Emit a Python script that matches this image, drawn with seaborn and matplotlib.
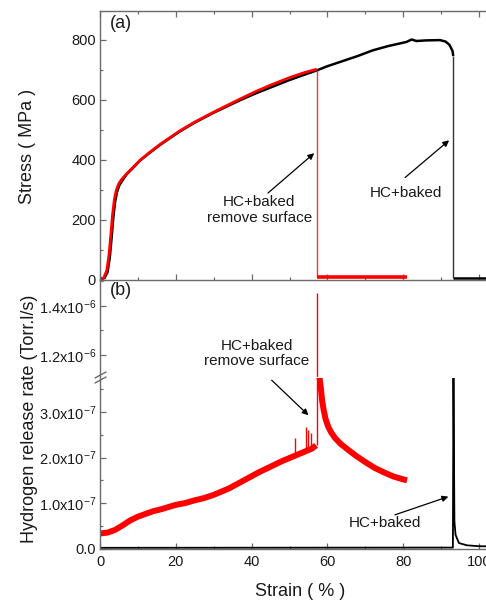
import matplotlib
matplotlib.use("Agg")
import matplotlib.pyplot as plt
import seaborn as sns
import pandas as pd
from matplotlib.ticker import MultipleLocator, FixedLocator, FuncFormatter

# ---------------- data ----------------
# (a) stress-strain
red_strain = [0, 1.0, 1.8, 2.4, 2.9, 3.3, 3.8, 4.3, 4.9, 5.6, 7.0, 8.8, 10.6, 13, 16, 21, 25, 30, 37, 41, 45, 50, 54, 57.2]
red_stress = [0, 6, 30, 85, 155, 215, 268, 298, 318, 332, 352, 375, 398, 423, 452, 495, 525, 558, 602, 626, 648, 673, 690, 701]
red_broken_strain = [57.2, 81.0]
red_broken_stress = [7, 7]
red_fracture = 57.2

blk_strain = [0, 1.2, 2.0, 2.6, 3.1, 3.5, 4.0, 4.5, 5.1, 5.8, 7.0, 8.8, 10.6, 13, 16, 21, 25, 30, 37, 41, 45, 50, 54, 57.2,
              60, 63.3, 68, 72, 76, 80.9, 82.2, 83.5, 86, 89.7, 91.2, 92.2, 93.0, 93.2]
blk_stress = [0, 5, 25, 75, 145, 205, 260, 292, 314, 328, 350, 373, 397, 421, 450, 493, 523, 556, 598, 620, 640, 665, 683, 697,
              711, 725, 745, 764, 778, 792, 800, 795, 797, 798, 793, 782, 762, 745]
blk_broken_strain = [93.2, 106.0]
blk_broken_stress = [6, 6]
blk_fracture = 93.2

# (b) hydrogen release rate (Torr.l/s)
h_red_strain = [0, 2, 4, 6, 8, 10, 12, 14, 16, 18, 20, 22.5, 25, 27.5, 30, 32, 34, 36, 38, 40,
                42, 44, 46, 48, 50, 52, 54, 56, 57.0]
h_red_rate = [3.3e-8, 3.5e-8, 4.1e-8, 5.1e-8, 6.2e-8, 7.0e-8, 7.6e-8, 8.2e-8, 8.6e-8, 9.1e-8, 9.6e-8, 1.00e-7,
              1.06e-7, 1.11e-7, 1.18e-7, 1.25e-7, 1.32e-7, 1.41e-7, 1.50e-7, 1.59e-7, 1.68e-7, 1.76e-7,
              1.84e-7, 1.92e-7, 1.99e-7, 2.06e-7, 2.13e-7, 2.20e-7, 2.27e-7]
h_red_decay_strain = [57.7, 58.0, 58.3, 58.6, 59.0, 59.5, 60.2, 61.0, 62.0, 63.5, 65.0, 67.5, 70.0, 72.5,
                      75.0, 77.5, 80.0, 81.0]
h_red_decay_rate = [3.9e-7, 3.70e-7, 3.50e-7, 3.25e-7, 3.05e-7, 2.85e-7, 2.68e-7, 2.55e-7, 2.43e-7, 2.30e-7,
                    2.20e-7, 2.04e-7, 1.90e-7, 1.77e-7, 1.67e-7, 1.58e-7, 1.52e-7, 1.50e-7]
h_red_spike_strain = [51.5, 54.3, 54.8, 55.6, 57.2]
h_red_spike_base = [2.06e-7, 2.16e-7, 2.18e-7, 2.20e-7, 2.27e-7]
h_red_spike_top = [2.43e-7, 2.67e-7, 2.60e-7, 2.54e-7, 1.453e-6]

h_blk_strain = [0, 93.1, 93.25, 93.5, 93.8, 94.7, 96.8, 100, 106]
h_blk_rate = [1.5e-9, 2.0e-9, 3.8e-7, 6.0e-8, 3.0e-8, 1.2e-8, 7e-9, 5e-9, 4.5e-9]

x_ticks = [0, 20, 40, 60, 80, 100]
stress_ticks = [0, 200, 400, 600, 800]
rate_ticks_low = [0, 1e-7, 2e-7, 3e-7]
rate_ticks_up = [1.2e-6, 1.4e-6]

# ---------------- style ----------------
sns.set_theme(style="ticks")
plt.rcParams["font.family"] = ["Liberation Sans", "DejaVu Sans"]
plt.rcParams["mathtext.fontset"] = "custom"
plt.rcParams["mathtext.rm"] = "Liberation Sans"
plt.rcParams["mathtext.it"] = "Liberation Sans"
plt.rcParams["mathtext.default"] = "regular"

RED = "#ff0000"
BLK = "#000000"
SPINE = "#6a6a6a"
TXT = "#1a1a1a"
TICK_FS = 10.5

W, H = 486, 602
fig = plt.figure(figsize=(W / 100, H / 100), dpi=100)


def rect(l, t, r, b):
    return [l / W, 1 - b / H, (r - l) / W, (b - t) / H]


ax_a = fig.add_axes(rect(100, 11, 498, 279.5))
ax_bu = fig.add_axes(rect(100, 279.5, 498, 376.5))
ax_bl = fig.add_axes(rect(100, 377.5, 498, 548.5))

for ax in (ax_a, ax_bu, ax_bl):
    for s in ax.spines.values():
        s.set_color(SPINE)
        s.set_linewidth(1.0)
    ax.tick_params(which="both", direction="in", color=SPINE, labelcolor=TXT, labelsize=TICK_FS, width=0.9)
    ax.tick_params(which="major", length=4.5)
    ax.tick_params(which="minor", length=2.4)
    ax.set_xlim(0, 105)
    ax.set_facecolor("none")

line_kw = dict(sort=False, estimator=None, legend=False, solid_capstyle="butt")

# ---------------- (a) ----------------
df = pd.DataFrame({"x": blk_strain, "y": blk_stress})
sns.lineplot(data=df, x="x", y="y", ax=ax_a, color=BLK, lw=1.8, **line_kw)
sns.lineplot(x=blk_broken_strain, y=blk_broken_stress, ax=ax_a, color=BLK, lw=1.8, **line_kw)
ax_a.vlines([blk_fracture], [blk_broken_stress[0]], [blk_stress[-1]], color="#333333", lw=1.0)

df = pd.DataFrame({"x": red_strain, "y": red_stress})
sns.lineplot(data=df, x="x", y="y", ax=ax_a, color=RED, lw=2.0, **line_kw)
sns.lineplot(x=red_broken_strain, y=red_broken_stress, ax=ax_a, color=RED, lw=2.6, **line_kw)
ax_a.vlines([red_fracture], [red_broken_stress[0]], [red_stress[-1]], color=RED, lw=1.0, alpha=0.8)

ax_a.set_ylim(0, 895)
ax_a.set_xticks(x_ticks)
ax_a.xaxis.set_minor_locator(MultipleLocator(10))
ax_a.set_yticks(stress_ticks)
ax_a.yaxis.set_minor_locator(MultipleLocator(100))
ax_a.tick_params(axis="x", top=True, bottom=True, labelbottom=False, which="both")
ax_a.tick_params(axis="y", left=True, right=True, which="both", pad=3)
ax_a.set_xlabel("")
ax_a.set_ylabel("")

ax_a.text(0.025, 0.985, "(a)", transform=ax_a.transAxes, ha="left", va="top", fontsize=13, color=TXT)
ax_a.text(42.0, 231, "HC+baked\nremove surface", ha="center", va="center", fontsize=11, color=TXT, linespacing=1.15)
ax_a.annotate("", xy=(56.5, 421), xytext=(44.3, 288),
              arrowprops=dict(arrowstyle="-|>", color=BLK, lw=0.9, mutation_scale=9, shrinkA=0, shrinkB=0))
ax_a.text(80.7, 288, "HC+baked", ha="center", va="center", fontsize=11, color=TXT)
ax_a.annotate("", xy=(92.1, 464), xytext=(80.5, 340),
              arrowprops=dict(arrowstyle="-|>", color=BLK, lw=0.9, mutation_scale=9, shrinkA=0, shrinkB=0))

# ---------------- (b) ----------------
for ax in (ax_bu, ax_bl):
    sns.lineplot(x=h_blk_strain, y=h_blk_rate, ax=ax, color=BLK, lw=1.3, **line_kw)
    sns.lineplot(x=h_red_strain, y=h_red_rate, ax=ax, color=RED, lw=4.3, **line_kw)
    sns.lineplot(x=h_red_decay_strain, y=h_red_decay_rate, ax=ax, color=RED, lw=4.3, **line_kw)
    ax.vlines(h_red_spike_strain, h_red_spike_base, h_red_spike_top, color=RED, lw=1.0)
    ax.set_xlabel("")
    ax.set_ylabel("")
    ax.set_xticks(x_ticks)
    ax.xaxis.set_minor_locator(MultipleLocator(10))

ax_bu.set_ylim(1.112e-6, 1.508e-6)
ax_bu.yaxis.set_major_locator(FixedLocator(rate_ticks_up))
ax_bu.yaxis.set_minor_locator(FixedLocator([1.3e-6, 1.5e-6]))
ax_bu.yaxis.set_major_formatter(FuncFormatter(lambda v, p: f"{v / 1e-6:.1f}x10$^{{-6}}$"))
ax_bu.tick_params(axis="x", which="both", bottom=False, top=False, labelbottom=False)
ax_bu.tick_params(axis="y", pad=3)
ax_bu.spines["bottom"].set_visible(False)
ax_bu.spines["top"].set_visible(False)
ax_bu.text(0.025, 0.97, "(b)", transform=ax_bu.transAxes, ha="left", va="top", fontsize=13, color=TXT)

ax_bl.set_ylim(0, 3.76e-7)
ax_bl.yaxis.set_major_locator(FixedLocator(rate_ticks_low))
ax_bl.yaxis.set_minor_locator(FixedLocator([0.5e-7, 1.5e-7, 2.5e-7, 3.5e-7]))
ax_bl.yaxis.set_major_formatter(
    FuncFormatter(lambda v, p: "0.0" if abs(v) < 1e-12 else f"{v / 1e-7:.1f}x10$^{{-7}}$"))
ax_bl.spines["top"].set_visible(False)
ax_bl.tick_params(axis="x", which="both", bottom=True, top=False, pad=5)
ax_bl.tick_params(axis="y", pad=3)

ax_bl.text(41.4, 4.29e-7, "HC+baked\nremove surface", ha="center", va="center", fontsize=11, color=TXT,
           linespacing=1.15, clip_on=False)
ax_bl.annotate("", xy=(55.0, 2.93e-7), xytext=(45.3, 3.70e-7), annotation_clip=False,
               arrowprops=dict(arrowstyle="-|>", color=BLK, lw=0.9, mutation_scale=9, shrinkA=0, shrinkB=0))
ax_bl.text(75.2, 5.6e-8, "HC+baked", ha="center", va="center", fontsize=11, color=TXT)
ax_bl.annotate("", xy=(91.9, 1.14e-7), xytext=(77.8, 7.4e-8),
               arrowprops=dict(arrowstyle="-|>", color=BLK, lw=0.9, mutation_scale=9, shrinkA=0, shrinkB=0))

# break marks on left spine
bh = 171.0
bw = 398.0
for off in (0, 5):
    ax_bl.plot([(95 - 100) / bw, (106 - 100) / bw],
               [(548.5 - (378 + off)) / bh, (548.5 - (372 + off)) / bh],
               transform=ax_bl.transAxes, color=SPINE, lw=1.0, clip_on=False)

# axis labels
fig.text(28 / W, 1 - 146 / H, "Stress ( MPa )", rotation=90, ha="center", va="center", fontsize=13, color=TXT)
fig.text(30 / W, 1 - 419 / H, "Hydrogen release rate (Torr.l/s)", rotation=90, ha="center", va="center",
         fontsize=13, color=TXT)
fig.text(300 / W, 1 - 591 / H, "Strain ( % )", ha="center", va="center", fontsize=13, color=TXT)

fig.savefig("out.png", dpi=100, facecolor="white")
